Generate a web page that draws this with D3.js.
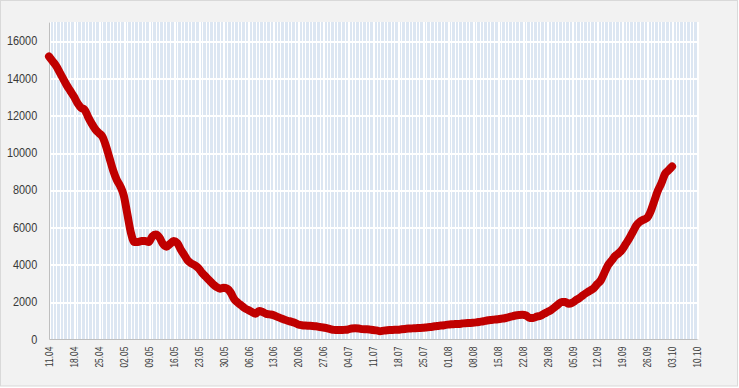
<!DOCTYPE html>
<html>
<head>
  <meta charset="utf-8">
  <script src="https://d3js.org/d3.v7.min.js"></script>
  <style>
    body { margin: 0; background: #ffffff; }
    text { font-family: "Liberation Sans", Arial, sans-serif; }
  </style>
</head>
<body>
  <div id="chart"></div>
  <script>
    // Weekly tick labels on the x axis
    const tickLabels = ["11.04", "18.04", "25.04", "02.05", "09.05", "16.05", "23.05", "30.05",
      "06.06", "13.06", "20.06", "27.06", "04.07", "11.07", "18.07", "25.07", "01.08", "08.08",
      "15.08", "22.08", "29.08", "05.09", "12.09", "19.09", "26.09", "03.10", "10.10"];

    // y axis ticks
    const yTicks = [0, 2000, 4000, 6000, 8000, 10000, 12000, 14000, 16000];

    // Daily values, one per day starting on 11.04
    const firstDay = "11.04";
    const dailyValues = [
      15150, 14900, 14650, 14300, 13950, 13600, 13300, 13000, 12650, 12400,
      12300, 11900, 11550, 11250, 11050, 10850, 10350, 9700, 9050, 8550,
      8200, 7700, 6700, 5700, 5200, 5200, 5250, 5250, 5200, 5500,
      5600, 5450, 5100, 4950, 5100, 5250, 5150, 4800, 4500, 4200,
      4050, 3950, 3800, 3550, 3350, 3150, 2950, 2800, 2700, 2750,
      2700, 2500, 2150, 1950, 1800, 1650, 1550, 1450, 1350, 1500,
      1450, 1350, 1320, 1280, 1200, 1120, 1050, 980, 930, 870,
      780, 740, 720, 710, 700, 680, 640, 620, 580, 530,
      490, 480, 480, 490, 510, 560, 570, 560, 530, 520,
      510, 480, 460, 420, 450, 470, 480, 490, 500, 520,
      540, 560, 570, 580, 590, 600, 620, 640, 670, 700,
      720, 740, 770, 790, 800, 810, 830, 850, 860, 870,
      890, 920, 950, 990, 1020, 1040, 1060, 1090, 1110, 1160,
      1210, 1260, 1290, 1300, 1260, 1130, 1130, 1200, 1240, 1350,
      1450, 1550, 1700, 1850, 1990, 1980, 1890, 1950, 2080, 2200,
      2350, 2480, 2600, 2720, 2950, 3150, 3550, 3950, 4200, 4450,
      4600, 4800, 5100, 5400, 5750, 6100, 6300, 6400, 6500, 6850,
      7400, 7950, 8350, 8850, 9050, 9250
    ];

    const width = 739;
    const height = 388;
    const plot = { left: 49, right: 697, top: 22, bottom: 339 };

    const parseDay = s => d3.timeParse("%d.%m.%Y")(s + ".2021");
    const start = parseDay(firstDay);
    const data = dailyValues.map((v, i) => ({ date: d3.timeDay.offset(start, i), value: v }));
    const tickDates = tickLabels.map(parseDay);

    const svg = d3.select("#chart")
      .append("svg")
      .attr("width", width)
      .attr("height", height);

    // outer chart area
    svg.append("rect")
      .attr("x", 0.5)
      .attr("y", 0.5)
      .attr("width", width - 2)
      .attr("height", height - 2.5)
      .attr("fill", "#f2f2f2")
      .attr("stroke", "#d9d9d9");

    const x = d3.scaleTime()
      .domain([tickDates[0], tickDates[tickDates.length - 1]])
      .range([plot.left, plot.right]);

    const y = d3.scaleLinear()
      .domain([0, 17000])
      .range([plot.bottom, plot.top]);

    // plot background
    svg.append("rect")
      .attr("x", plot.left)
      .attr("y", plot.top)
      .attr("width", plot.right - plot.left)
      .attr("height", plot.bottom - plot.top)
      .attr("fill", "#dce6f2");

    // daily vertical white lines
    const days = d3.timeDay.range(tickDates[0], d3.timeDay.offset(tickDates[tickDates.length - 1], 1));
    svg.append("g")
      .selectAll("line")
      .data(days)
      .join("line")
      .attr("x1", d => Math.round(x(d)) + 0.5)
      .attr("x2", d => Math.round(x(d)) + 0.5)
      .attr("y1", plot.top)
      .attr("y2", plot.bottom)
      .attr("stroke", "#ffffff")
      .attr("stroke-width", 1)
      .attr("shape-rendering", "crispEdges");

    // weekly thicker lines
    svg.append("g")
      .selectAll("line")
      .data(tickDates)
      .join("line")
      .attr("x1", d => Math.round(x(d)) + 1)
      .attr("x2", d => Math.round(x(d)) + 1)
      .attr("y1", plot.top)
      .attr("y2", plot.bottom)
      .attr("stroke", "#ffffff")
      .attr("stroke-width", 2)
      .attr("shape-rendering", "crispEdges");

    // horizontal gridlines
    svg.append("g")
      .selectAll("line")
      .data(yTicks.slice(1))
      .join("line")
      .attr("x1", plot.left)
      .attr("x2", plot.right)
      .attr("y1", d => Math.round(y(d)) + 0.5)
      .attr("y2", d => Math.round(y(d)) + 0.5)
      .attr("stroke", "#ffffff")
      .attr("stroke-width", 2)
      .attr("shape-rendering", "crispEdges");

    // y axis
    const yAxis = svg.append("g")
      .attr("transform", `translate(${plot.left}, 0)`)
      .call(d3.axisLeft(y).tickValues(yTicks).tickSize(0).tickFormat(d3.format("d")));
    yAxis.select(".domain").attr("stroke", "#bfbfbf");
    yAxis.selectAll("text")
      .attr("x", -14)
      .attr("transform", "scale(0.84,1)")
      .style("font-size", "13px")
      .attr("fill", "#3a3a3a");

    // x axis
    const xAxis = svg.append("g")
      .attr("transform", `translate(0, ${plot.bottom})`)
      .call(d3.axisBottom(x).tickValues(tickDates).tickSize(0).tickFormat(d3.timeFormat("%d.%m")));
    xAxis.select(".domain").attr("stroke", "#bfbfbf");
    xAxis.selectAll("text")
      .attr("x", -9.5)
      .attr("y", 0)
      .attr("dy", "0.35em")
      .attr("transform", "rotate(-90) scale(0.8,1)")
      .style("text-anchor", "end")
      .style("font-size", "10.5px")
      .attr("fill", "#3a3a3a");

    // the series line
    const line = d3.line()
      .x(d => x(d.date))
      .y(d => y(d.value))
      .curve(d3.curveMonotoneX);

    svg.append("path")
      .datum(data)
      .attr("fill", "none")
      .attr("stroke", "#c00000")
      .attr("stroke-width", 8)
      .attr("stroke-linejoin", "round")
      .attr("stroke-linecap", "round")
      .attr("d", line);
  </script>
</body>
</html>
